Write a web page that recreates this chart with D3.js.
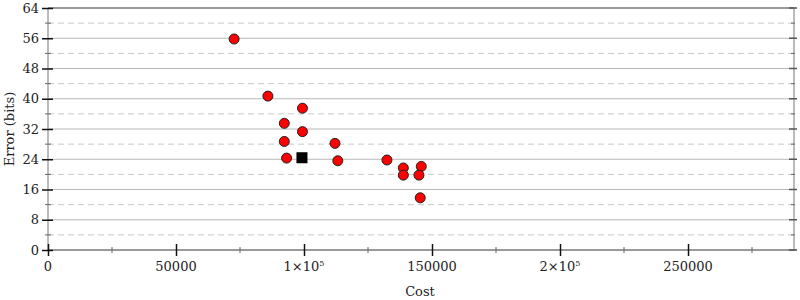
<!DOCTYPE html>
<html><head><meta charset="utf-8">
<script src="https://cdn.jsdelivr.net/npm/d3@7"></script>
<style>body{margin:0;background:#fff}svg{display:block}text{font-family:"DejaVu Serif",serif;font-size:13px;fill:#222}</style>
</head><body><svg id="c" width="800" height="300"></svg>
<script>
const costs = [72700, 85900, 99400, 92300, 99400, 92300, 112100, 93200, 113200, 132400, 138800, 138800, 145800, 144900, 145400];
const errors = [55.8, 40.7, 37.5, 33.5, 31.3, 28.7, 28.2, 24.3, 23.6, 23.8, 21.7, 19.8, 22.1, 19.8, 13.8];
const bestCost = [99200];
const bestError = [24.4];
const yMajor = [0, 8, 16, 24, 32, 40, 48, 56, 64];
const yMinor = [4, 12, 20, 28, 36, 44, 52, 60];
const xMajor = [0, 50000, 100000, 150000, 200000, 250000];
const xMinor = [25000, 75000, 125000, 175000, 225000, 275000];
const xLabels = ["0", "50000", "1×10^5", "150000", "2×10^5", "250000"];

const svg = d3.select("#c");
const L = 48, R = 794, T = 8, B = 250;
const x = d3.scaleLinear().domain([0, 291400]).range([L, R]);
const y = d3.scaleLinear().domain([0, 64]).range([B, T]);

// grid
svg.append("g").selectAll("line").data(yMinor).join("line")
  .attr("x1", L).attr("x2", R).attr("y1", d => y(d)).attr("y2", d => y(d))
  .attr("stroke", "#c8c8c8").attr("stroke-dasharray", "6,4");
svg.append("g").selectAll("line").data(yMajor.filter(d => d > 0 && d < 64)).join("line")
  .attr("x1", L).attr("x2", R).attr("y1", d => y(d)).attr("y2", d => y(d))
  .attr("stroke", d => d === 32 ? "#dcdcdc" : "#b8b8b8").attr("stroke-width", d => d === 32 ? 2 : 1);

// frame
svg.append("line").attr("x1", L).attr("x2", R).attr("y1", y(64)).attr("y2", y(64)).attr("stroke", "#999").attr("stroke-width", 2);
svg.append("line").attr("x1", L).attr("x2", L).attr("y1", T).attr("y2", B).attr("stroke", "#bbb").attr("stroke-width", 2);
svg.append("line").attr("x1", R).attr("x2", R).attr("y1", T).attr("y2", B).attr("stroke", "#bbb").attr("stroke-width", 2);
svg.append("line").attr("x1", L).attr("x2", R + 2).attr("y1", B).attr("y2", B).attr("stroke", "#999").attr("stroke-width", 2);

// y axis ticks
const ya = d3.axisLeft(y).tickValues(yMajor).tickSize(6).tickPadding(3);
const yg = svg.append("g").attr("transform", `translate(${L},0)`).call(ya);
yg.select(".domain").remove();
yg.selectAll(".tick line").attr("stroke", "#111").attr("x2", -6).attr("x1", 5).attr("stroke-width", 1.5);
yg.selectAll(".tick text").attr("fill", "#222").style("font-family", "DejaVu Serif, serif").style("font-size", "13px");
svg.append("g").selectAll("line").data(yMinor).join("line")
  .attr("x1", L - 3).attr("x2", L + 3).attr("y1", d => y(d)).attr("y2", d => y(d)).attr("stroke", "#666");
// right ticks
svg.append("g").selectAll("line").data(yMajor).join("line")
  .attr("x1", R - 5).attr("x2", R + 3).attr("y1", d => y(d)).attr("y2", d => y(d)).attr("stroke", "#555").attr("stroke-width", 1.5);
svg.append("g").selectAll("line").data(yMinor).join("line")
  .attr("x1", R - 3).attr("x2", R + 1).attr("y1", d => y(d)).attr("y2", d => y(d)).attr("stroke", "#666");

// x axis ticks
const xa = d3.axisBottom(x).tickValues(xMajor).tickSize(6).tickPadding(8).tickFormat(() => "");
const xg = svg.append("g").attr("transform", `translate(0,${B})`).call(xa);
xg.select(".domain").remove();
xg.selectAll(".tick line").attr("stroke", "#111").attr("y1", -6).attr("y2", 6).attr("stroke-width", 1.5);
svg.append("g").selectAll("line").data(xMinor.filter(d => x(d) < R)).join("line")
  .attr("x1", d => x(d)).attr("x2", d => x(d)).attr("y1", B - 3).attr("y2", B + 3).attr("stroke", "#666");
const xt = svg.append("g").selectAll("text").data(xMajor).join("text")
  .attr("x", d => x(d)).attr("y", B + 21).attr("text-anchor", "middle");
xt.each(function(d, i) {
  const s = xLabels[i];
  const t = d3.select(this);
  if (s.includes("^")) {
    const [b, e] = s.split("^");
    t.append("tspan").text(b);
    t.append("tspan").text(e).attr("dy", -5).style("font-size", "8px");
  } else t.text(s);
});

// axis titles
svg.append("text").attr("x", (L + R) / 2 - 1).attr("y", 296).attr("text-anchor", "middle").text("Cost");
svg.append("text").attr("transform", `translate(14,${(T + B) / 2}) rotate(-90)`).attr("text-anchor", "middle").text("Error (bits)");

// points
svg.append("g").selectAll("circle").data(costs.map((c, i) => [c, errors[i]])).join("circle")
  .attr("cx", d => x(d[0])).attr("cy", d => y(d[1])).attr("r", 5)
  .attr("fill", "#f00").attr("stroke", "#222").attr("stroke-width", 1);
svg.append("g").selectAll("rect").data(bestCost.map((c, i) => [c, bestError[i]])).join("rect")
  .attr("x", d => x(d[0]) - 5.5).attr("y", d => y(d[1]) - 5.5).attr("width", 11).attr("height", 11)
  .attr("fill", "#000");
</script></body></html>
